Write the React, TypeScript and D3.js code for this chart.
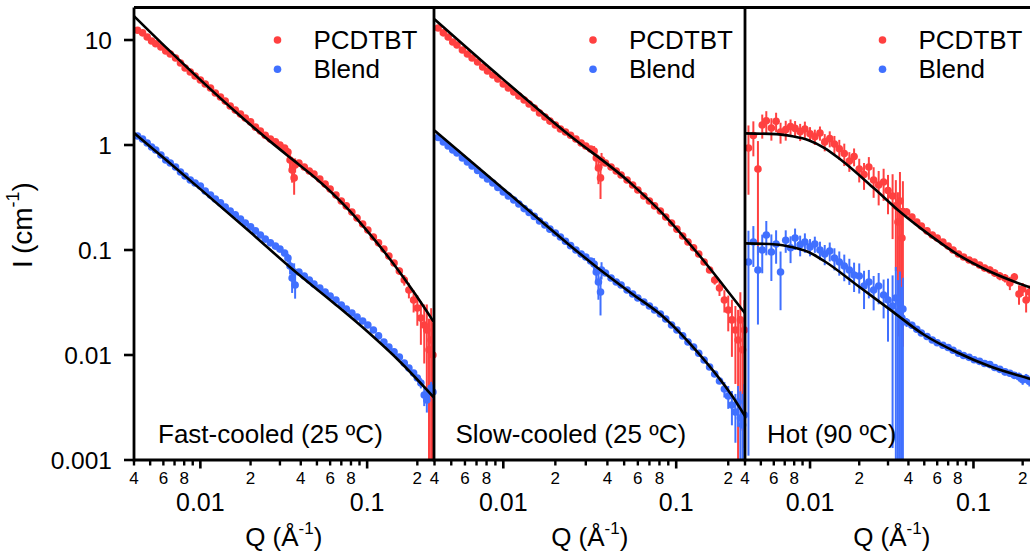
import React from 'react';
import * as d3 from 'd3';

// ---------- DATA ----------
const qValues = [
  0.0042, 0.0045, 0.0048, 0.0051, 0.0054, 0.0058, 0.0062, 0.0066, 0.0071, 0.0076,
  0.0081, 0.0087, 0.0093, 0.010, 0.0107, 0.0115, 0.0123, 0.0132, 0.0141, 0.0151,
  0.0162, 0.0174, 0.0186, 0.020, 0.0214, 0.0229, 0.0245, 0.0263, 0.0282, 0.030,
  0.032, 0.0335, 0.0345, 0.0355, 0.0365, 0.037, 0.039, 0.042, 0.045, 0.048,
  0.052, 0.056, 0.060, 0.065, 0.070, 0.075, 0.081, 0.087, 0.094, 0.101,
  0.109, 0.117, 0.126, 0.135, 0.145, 0.156, 0.167, 0.178, 0.19, 0.2,
  0.21, 0.22, 0.228, 0.235, 0.242, 0.248,
];

// Fast-cooled
const fastPCDTBT = [
  12.4, 11.7, 10.7, 9.8, 9.2, 8.6, 7.85, 7.36, 6.74, 6.04,
  5.41, 4.96, 4.54, 4.16, 3.81, 3.49, 3.13, 2.87, 2.62, 2.35,
  2.15, 1.97, 1.81, 1.66, 1.48, 1.36, 1.24, 1.14, 1.07, 1.0,
  0.936, 0.858, 0.72, 0.578, 0.486, 0.646, 0.674, 0.617, 0.565, 0.53,
  0.475, 0.425, 0.381, 0.334, 0.293, 0.263, 0.23, 0.202, 0.177, 0.155,
  0.133, 0.117, 0.102, 0.0877, 0.0752, 0.063, 0.0518, 0.0416, 0.0334, 0.028,
  0.0225, 0.0193, 0.0173, 0.0112, 0.0139, 0.01,
];
const fastPCDTBTErr = [
  0, 0, 0, 0, 0, 0, 0, 0, 0, 0,
  0, 0, 0, 0, 0, 0, 0, 0, 0, 0,
  0, 0, 0, 0, 0, 0, 0, 0, 0, 0,
  0, 0.08, 0.12, 0.14, 0.15, 0.1, 0, 0, 0, 0,
  0, 0, 0, 0, 0, 0, 0, 0, 0, 0,
  0, 0, 0, 0.004, 0.004, 0.005, 0.006, 0.007, 0.008, 0.009,
  0.01, 0.011, 0.013, 0.011, 0.014, 0.0105,
];
const fastBlend = [
  1.22, 1.14, 1.045, 0.957, 0.896, 0.803, 0.72, 0.674, 0.617, 0.553,
  0.507, 0.464, 0.434, 0.407, 0.365, 0.334, 0.306, 0.281, 0.257, 0.235,
  0.216, 0.197, 0.181, 0.166, 0.152, 0.139, 0.127, 0.117, 0.109, 0.102,
  0.0936, 0.0839, 0.0704, 0.054, 0.0617, 0.0464, 0.0617, 0.0566, 0.0518, 0.0474,
  0.0435, 0.0398, 0.0365, 0.0334, 0.0299, 0.0274, 0.0251, 0.023, 0.0211, 0.0193,
  0.0173, 0.0152, 0.0133, 0.0119, 0.0107, 0.00957, 0.0084, 0.00752, 0.00674, 0.00604,
  0.00541, 0.00416, 0.00373, 0.00444, 0.00485, 0.00444,
];
const fastBlendErr = [
  0, 0, 0, 0, 0, 0, 0, 0, 0, 0,
  0, 0, 0, 0, 0, 0, 0, 0, 0, 0,
  0, 0, 0, 0, 0, 0, 0, 0, 0, 0,
  0, 0.008, 0.012, 0.015, 0.013, 0.012, 0, 0, 0, 0,
  0, 0, 0, 0, 0, 0, 0, 0, 0, 0,
  0, 0, 0, 0, 0, 0, 0, 0, 0, 0,
  0.0006, 0.0009, 0.0009, 0.0007, 0.0007, 0.0006,
];

// Slow-cooled
const slowPCDTBT = [
  13.0, 11.7, 10.7, 9.57, 8.96, 8.03, 7.36, 6.74, 6.17, 5.53,
  5.07, 4.64, 4.25, 3.81, 3.49, 3.2, 2.93, 2.68, 2.46, 2.25,
  2.02, 1.85, 1.69, 1.55, 1.42, 1.33, 1.24, 1.14, 1.045, 0.978,
  0.916, 0.877, 0.752, 0.604, 0.486, 0.72, 0.674, 0.617, 0.565, 0.518,
  0.464, 0.416, 0.373, 0.327, 0.293, 0.263, 0.235, 0.206, 0.181, 0.158,
  0.136, 0.119, 0.105, 0.0916, 0.0769, 0.0645, 0.0518, 0.0435, 0.0334, 0.0268,
  0.0216, 0.0173, 0.0139, 0.0216, 0.0112, 0.0173,
];
const slowPCDTBTErr = [
  0, 0, 0, 0, 0, 0, 0, 0, 0, 0,
  0, 0, 0, 0, 0, 0, 0, 0, 0, 0,
  0, 0, 0, 0, 0, 0, 0, 0, 0, 0,
  0, 0.1, 0.15, 0.18, 0.18, 0.12, 0, 0, 0, 0,
  0, 0, 0, 0, 0, 0, 0, 0, 0, 0,
  0, 0, 0, 0, 0, 0, 0.005, 0.007, 0.008, 0.01,
  0.012, 0.012, 0.013, 0.018, 0.0093, 0.016,
];
const slowBlend = [
  1.18, 1.07, 0.978, 0.896, 0.839, 0.752, 0.689, 0.631, 0.572, 0.518,
  0.474, 0.435, 0.394, 0.357, 0.327, 0.299, 0.274, 0.248, 0.228, 0.209,
  0.189, 0.173, 0.158, 0.145, 0.133, 0.121, 0.11, 0.1, 0.0916, 0.0857,
  0.0786, 0.0736, 0.0617, 0.0496, 0.0398, 0.0645, 0.0604, 0.0541, 0.0496, 0.0464,
  0.0416, 0.0381, 0.0349, 0.032, 0.0293, 0.0268, 0.0246, 0.022, 0.0193, 0.0173,
  0.0152, 0.0133, 0.0119, 0.0104, 0.00896, 0.00769, 0.00659, 0.00565, 0.00474, 0.00407,
  0.00334, 0.00286, 0.00357, 0.00251, 0.00216, 0.00268,
];
const slowBlendErr = [
  0, 0, 0, 0, 0, 0, 0, 0, 0, 0,
  0, 0, 0, 0, 0, 0, 0, 0, 0, 0,
  0, 0, 0, 0, 0, 0, 0, 0, 0, 0,
  0, 0.01, 0.014, 0.016, 0.016, 0.012, 0, 0, 0, 0,
  0, 0, 0, 0, 0, 0, 0, 0, 0, 0,
  0, 0, 0, 0, 0, 0, 0, 0, 0.0008, 0.001,
  0.0012, 0.0014, 0.0015, 0.002, 0.0021, 0.0026,
];

// Hot (90 ºC)
const hotPCDTBT = [
  0.936, 1.23, 0.59, 1.55, 1.7, 1.45, 1.68, 1.33, 1.4, 1.5,
  1.44, 1.34, 1.42, 1.28, 1.2, 1.3, 1.07, 1.15, 1.02, 0.92,
  0.83, 0.705, 0.777, 0.59, 0.524, 0.617, 0.464, 0.416, 0.444, 0.369,
  0.327, 0.263, 0.185, 0.293, 0.13, 0.232, 0.23, 0.206, 0.185, 0.169,
  0.152, 0.139, 0.13, 0.119, 0.109, 0.1, 0.0916, 0.0857, 0.0803, 0.0769,
  0.072, 0.0674, 0.0645, 0.0604, 0.0565, 0.0541, 0.0485, 0.0553, 0.0381, 0.0425,
  0.0334, 0.0398, 0.035, 0.037, 0.033, 0.034,
];
const hotPCDTBTErr = [
  0.6, 0.45, 0.5, 0.4, 0.4, 0.35, 0.35, 0.3, 0.3, 0.25,
  0.25, 0.25, 0.25, 0.2, 0.2, 0.2, 0.2, 0.2, 0.2, 0.2,
  0.2, 0.15, 0.15, 0.15, 0.15, 0.15, 0.15, 0.15, 0.15, 0.15,
  0.2, 0.2, 0.17, 0.26, 0.12, 0.22, 0.02, 0.015, 0.012, 0.01,
  0.01, 0.008, 0.008, 0.007, 0.006, 0.006, 0.005, 0.005, 0.005, 0.005,
  0.005, 0.005, 0.005, 0.005, 0.005, 0.005, 0.007, 0.005, 0.008, 0.006,
  0.008, 0.006, 0.006, 0.006, 0.006, 0.006,
];
const hotBlend = [
  0.0769, 0.119, 0.0645, 0.1, 0.139, 0.0957, 0.114, 0.0617, 0.124, 0.105,
  0.13, 0.112, 0.119, 0.107, 0.114, 0.1, 0.0916, 0.0978, 0.0839, 0.0769,
  0.0704, 0.0645, 0.0578, 0.0565, 0.0454, 0.0496, 0.0416, 0.0454, 0.0373, 0.0334,
  0.0293, 0.0349, 0.0257, 0.0313, 0.0225, 0.0274, 0.0205, 0.0192, 0.0176, 0.0162,
  0.015, 0.0139, 0.0131, 0.0124, 0.0118, 0.0111, 0.0104, 0.0099, 0.0095, 0.009,
  0.0087, 0.0083, 0.0081, 0.0076, 0.0073, 0.0069, 0.0067, 0.0064, 0.0062, 0.0058,
  0.006, 0.0056, 0.0055, 0.0054, 0.0052, 0.0051,
];
const hotBlendErr = [
  0.0758, 0.05, 0.045, 0.04, 0.05, 0.045, 0.04, 0.035, 0.03, 0.03,
  0.03, 0.025, 0.025, 0.02, 0.02, 0.02, 0.02, 0.02, 0.02, 0.02,
  0.02, 0.018, 0.018, 0.018, 0.018, 0.015, 0.015, 0.015, 0.015, 0.02,
  0.028, 0.034, 0.026, 0.031, 0.022, 0.027, 0.002, 0.0015, 0.0012, 0.001,
  0.001, 0.0008, 0.0008, 0.0007, 0.0006, 0.0006, 0.0005, 0.0005, 0.0005, 0.0005,
  0.0005, 0.0005, 0.0005, 0.0005, 0.0005, 0.0005, 0.0005, 0.0005, 0.0006, 0.0006,
  0.0006, 0.0006, 0.0006, 0.0006, 0.0006, 0.0006,
];

// Model fits (black lines)
const fitFastPQ = [0.004, 0.00634, 0.01, 0.0167, 0.0263, 0.0361, 0.0457, 0.0627, 0.0794, 0.1, 0.129, 0.158, 0.195, 0.25];
const fitFastPI = [16.9, 8.27, 4.17, 1.995, 1.077, 0.718, 0.532, 0.34, 0.232, 0.152, 0.0925, 0.0604, 0.0376, 0.0208];
const fitFastBQ = [0.004, 0.00634, 0.01, 0.0202, 0.0361, 0.0627, 0.1, 0.158, 0.25];
const fitFastBI = [1.3, 0.704, 0.38, 0.145, 0.0645, 0.0315, 0.0168, 0.00858, 0.00398];
const fitSlowPQ = [0.004, 0.00919, 0.02228, 0.0547, 0.0851, 0.134, 0.209, 0.25];
const fitSlowPI = [15.8, 4.75, 1.375, 0.431, 0.215, 0.0916, 0.0365, 0.025];
const fitSlowBQ = [0.004, 0.00919, 0.02228, 0.0352, 0.0547, 0.0851, 0.134, 0.209, 0.25];
const fitSlowBI = [1.375, 0.431, 0.1245, 0.0674, 0.039, 0.0228, 0.0105, 0.00416, 0.00262];
const fitHotPQ = [0.004, 0.0062, 0.0078, 0.0098, 0.0122, 0.0155, 0.0247, 0.0361, 0.0499, 0.0802, 0.128, 0.225, 0.25];
const fitHotPI = [1.29, 1.27, 1.21, 1.11, 0.94, 0.72, 0.385, 0.226, 0.152, 0.0905, 0.0617, 0.0437, 0.0413];
const fitHotBQ = [0.004, 0.0062, 0.00765, 0.0097, 0.0122, 0.0196, 0.0313, 0.0501, 0.0802, 0.128, 0.225, 0.25];
const fitHotBI = [0.1156, 0.113, 0.107, 0.0961, 0.0786, 0.0457, 0.0266, 0.0155, 0.0105, 0.00772, 0.00589, 0.0056];

const panelTitles = ['Fast-cooled (25 ºC)', 'Slow-cooled (25 ºC)', 'Hot (90 ºC)'];
const seriesNames = ['PCDTBT', 'Blend'];
const yTickValues = [10, 1, 0.1, 0.01, 0.001];
const yTickLabels = ['10', '1', '0.1', '0.01', '0.001'];
const xMajorTicks = [0.01, 0.1];
const xMajorLabels = ['0.01', '0.1'];
const xMinorTicks = [0.004, 0.005, 0.006, 0.007, 0.008, 0.009, 0.02, 0.03, 0.04, 0.05, 0.06, 0.07, 0.08, 0.09, 0.2];
const xMinorLabelValues = [0.004, 0.006, 0.008, 0.02, 0.04, 0.06, 0.08, 0.2];
const xMinorLabels = ['4', '6', '8', '2', '4', '6', '8', '2'];

// ---------- STYLE ----------
const RED = '#ff4040';
const BLUE = '#4070ff';
const FONT = '"Liberation Sans", Arial, Helvetica, sans-serif';
const TOP = 7.5;
const BOTTOM = 460;

const panels = [
  { title: panelTitles[0], range: [134, 433.5], titleDx: 24, legendDx: -156,
    series: [
      { I: fastPCDTBT, E: fastPCDTBTErr, color: RED, fq: fitFastPQ, fi: fitFastPI },
      { I: fastBlend, E: fastBlendErr, color: BLUE, fq: fitFastBQ, fi: fitFastBI },
    ] },
  { title: panelTitles[1], range: [434.5, 745], titleDx: 21, legendDx: -152,
    series: [
      { I: slowPCDTBT, E: slowPCDTBTErr, color: RED, fq: fitSlowPQ, fi: fitSlowPI },
      { I: slowBlend, E: slowBlendErr, color: BLUE, fq: fitSlowBQ, fi: fitSlowBI },
    ] },
  { title: panelTitles[2], range: [745, 1038.5], titleDx: 22, legendDx: -156,
    series: [
      { I: hotPCDTBT, E: hotPCDTBTErr, color: RED, fq: fitHotPQ, fi: fitHotPI },
      { I: hotBlend, E: hotBlendErr, color: BLUE, fq: fitHotBQ, fi: fitHotBI },
    ] },
];

function Panel({ cfg, y }: { cfg: any; y: d3.ScaleLogarithmic<number, number> }) {
  const x = d3.scaleLog().domain([0.004, 0.25]).range(cfg.range);
  const line = d3
    .line<[number, number]>()
    .x((d) => x(d[0]))
    .y((d) => y(d[1]))
    .curve(d3.curveMonotoneX);
  const [x0, x1] = cfg.range;
  const cx = (x0 + x1) / 2;

  return (
    <g>
      {cfg.series.map((s: any, si: number) => (
        <g key={'s' + si}>
          {qValues.map((q, i) => {
            const e = s.E[i];
            if (!e) return null;
            const lo = s.I[i] - e;
            const hi = s.I[i] + e;
            const yLo = lo > 0.001 ? y(lo) : BOTTOM;
            const yHi = Math.max(y(hi), TOP);
            return (
              <line key={'e' + i} x1={x(q)} x2={x(q)} y1={yLo} y2={yHi} stroke={s.color} strokeWidth={2} />
            );
          })}
          {qValues.map((q, i) => (
            <circle key={'c' + i} cx={x(q)} cy={y(s.I[i])} r={3.8} fill={s.color} />
          ))}
        </g>
      ))}
      {cfg.series.map((s: any, si: number) => (
        <path
          key={'f' + si}
          d={line(s.fq.map((q: number, i: number) => [q, s.fi[i]]) as [number, number][]) || ''}
          fill="none"
          stroke="#000"
          strokeWidth={2.6}
        />
      ))}
      {seriesNames.map((name, i) => (
        <g key={'l' + i}>
          <circle cx={x1 + cfg.legendDx} cy={40 + i * 29.3} r={3.8} fill={cfg.series[i].color} />
          <text x={x1 + cfg.legendDx + 36} y={49 + i * 29.3} fontSize={26} fontFamily={FONT} fill="#000">
            {name}
          </text>
        </g>
      ))}
      <text x={x0 + cfg.titleDx} y={443} fontSize={26} fontFamily={FONT} fill="#000">
        {cfg.title}
      </text>
      {xMinorTicks.map((t) => (
        <line key={'mt' + t} x1={x(t)} x2={x(t)} y1={BOTTOM} y2={BOTTOM + 5.5} stroke="#000" strokeWidth={2.4} />
      ))}
      {xMajorTicks.map((t) => (
        <line key={'Mt' + t} x1={x(t)} x2={x(t)} y1={BOTTOM} y2={BOTTOM + 8.5} stroke="#000" strokeWidth={2.6} />
      ))}
      {xMinorLabelValues.map((t, i) => (
        <text key={'ml' + i} x={x(t)} y={484} fontSize={17} fontFamily={FONT} textAnchor="middle" fill="#000">
          {xMinorLabels[i]}
        </text>
      ))}
      {xMajorTicks.map((t, i) => (
        <text key={'Ml' + i} x={x(t)} y={511} fontSize={25} fontFamily={FONT} textAnchor="middle" fill="#000">
          {xMajorLabels[i]}
        </text>
      ))}
      <text x={cx} y={546} fontSize={26} fontFamily={FONT} textAnchor="middle" fill="#000">
        Q (Å
        <tspan fontSize={17} dy={-12}>-1</tspan>
        <tspan dy={12}>)</tspan>
      </text>
    </g>
  );
}

export default function App() {
  const W = 1030;
  const H = 553;
  const y = d3.scaleLog().domain([0.001, 20.4]).range([BOTTOM, TOP]);

  return (
    <svg
      width={W}
      height={H}
      viewBox={`0 0 ${W} ${H}`}
      style={{ position: 'absolute', left: 0, top: 0, background: '#fff' }}
    >
      <rect x={0} y={0} width={W} height={H} fill="#fff" />
      {panels.map((p, i) => (
        <Panel key={i} cfg={p} y={y} />
      ))}
      <line x1={134} x2={W} y1={TOP} y2={TOP} stroke="#000" strokeWidth={2.8} />
      <line x1={134} x2={W} y1={BOTTOM} y2={BOTTOM} stroke="#000" strokeWidth={2.8} />
      <line x1={134} x2={134} y1={TOP} y2={BOTTOM + 1.4} stroke="#000" strokeWidth={2.8} />
      <line x1={434} x2={434} y1={TOP} y2={BOTTOM + 1.4} stroke="#000" strokeWidth={2.8} />
      <line x1={745} x2={745} y1={TOP} y2={BOTTOM + 1.4} stroke="#000" strokeWidth={2.8} />
      {yTickValues.map((v, i) => (
        <g key={'yt' + i}>
          <line x1={124} x2={134} y1={y(v)} y2={y(v)} stroke="#000" strokeWidth={2.6} />
          <text x={112} y={y(v) + 8.5} fontSize={24.5} fontFamily={FONT} textAnchor="end" fill="#000">
            {yTickLabels[i]}
          </text>
        </g>
      ))}
      <text
        transform="translate(32,225) rotate(-90)"
        fontSize={28}
        fontFamily={FONT}
        textAnchor="middle"
        fill="#000"
      >
        I
        <tspan dx={6}>(cm</tspan>
        <tspan fontSize={18} dy={-13}>-1</tspan>
        <tspan dy={13}>)</tspan>
      </text>
    </svg>
  );
}
